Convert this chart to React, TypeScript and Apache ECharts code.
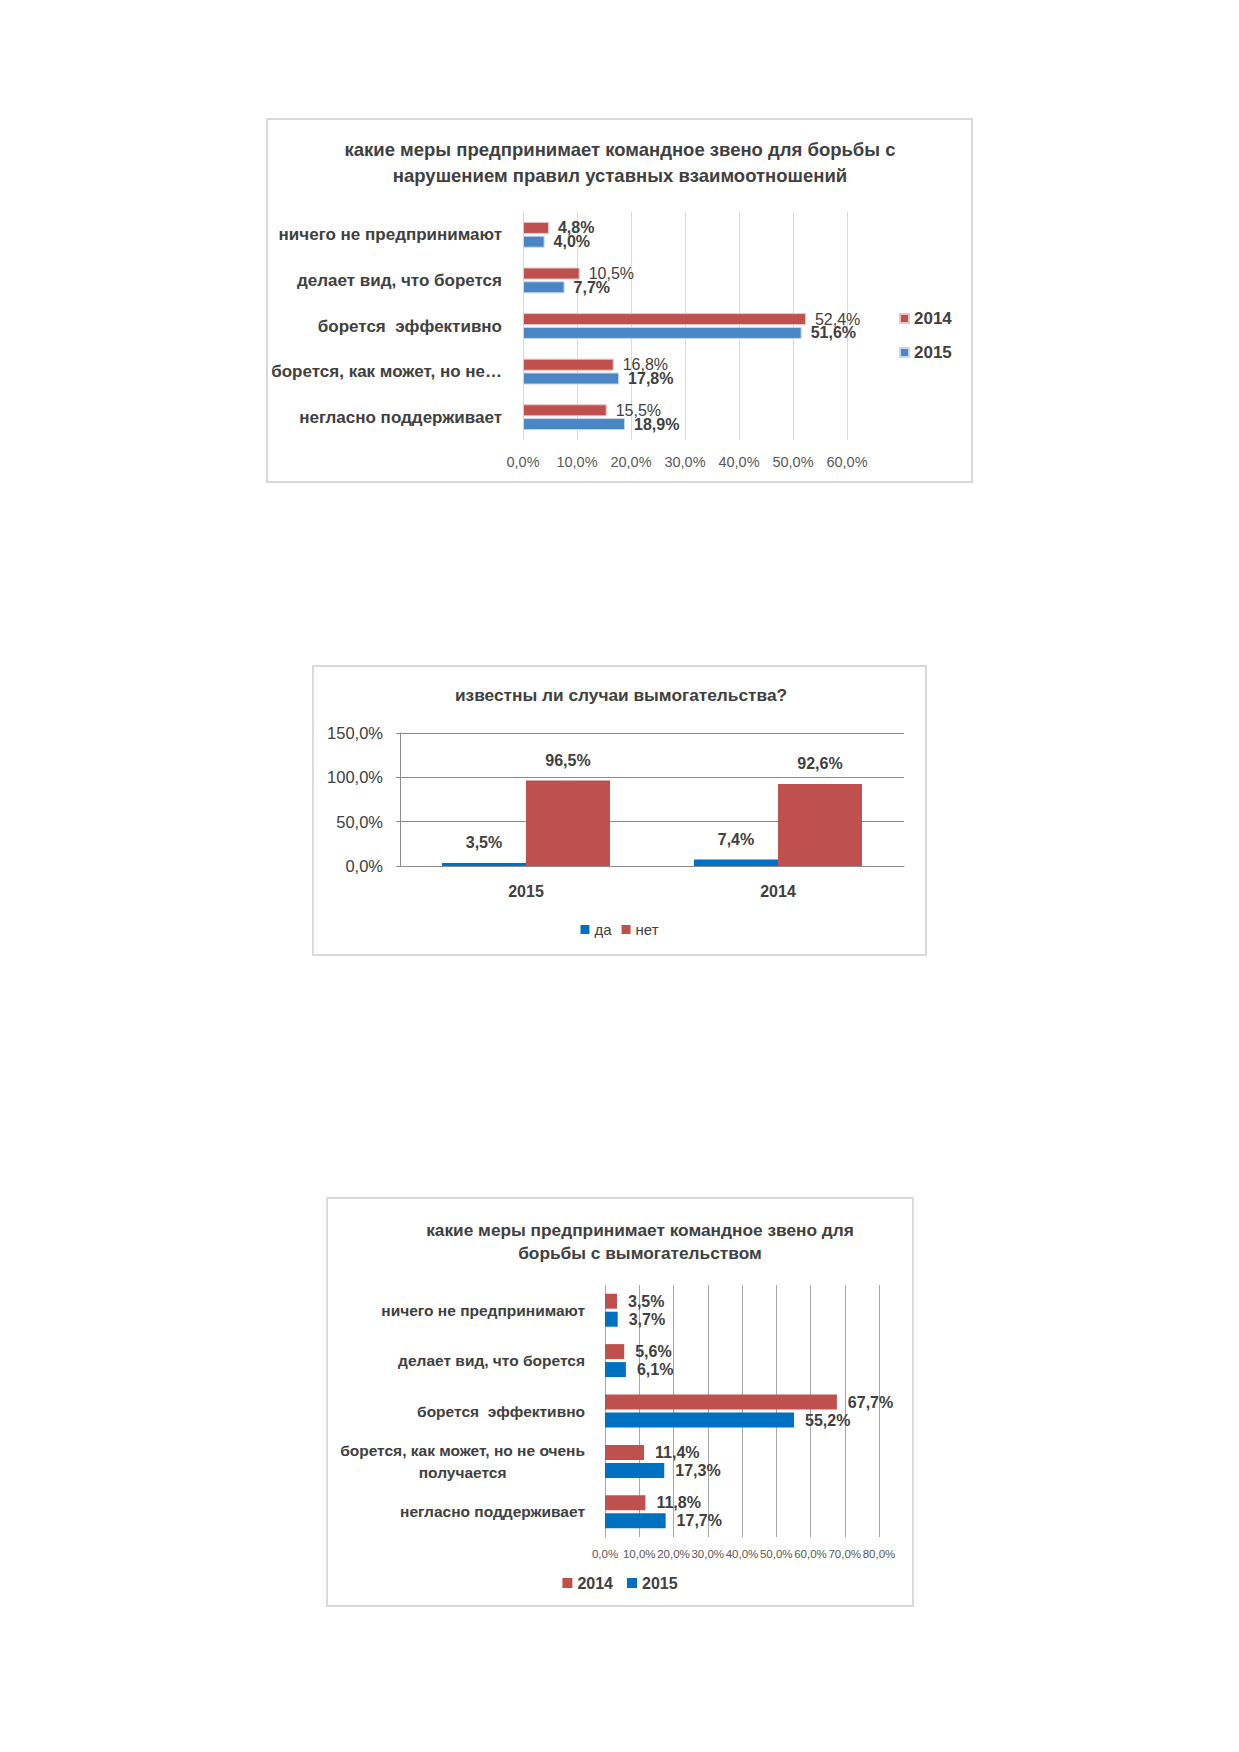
import React, { useEffect, useRef } from "react";
import * as echarts from "echarts";

// ---------- data ----------
const cats1 = [
  "ничего не предпринимают",
  "делает вид, что борется",
  "борется  эффективно",
  "борется, как может, но не…",
  "негласно поддерживает",
];
const c1_2014 = [4.8, 10.5, 52.4, 16.8, 15.5];
const c1_2015 = [4.0, 7.7, 51.6, 17.8, 18.9];

const cats2 = ["2015", "2014"];
const c2_yes = [3.5, 7.4];
const c2_no = [96.5, 92.6];

const cats3 = [
  "ничего не предпринимают",
  "делает вид, что борется",
  "борется  эффективно",
  "борется, как может, но не очень\nполучается",
  "негласно поддерживает",
];
const c3_2014 = [3.5, 5.6, 67.7, 11.4, 11.8];
const c3_2015 = [3.7, 6.1, 55.2, 17.3, 17.7];

const FONT = "Liberation Sans";
const RED = "#C0504D";
const BLUE1 = "#4A86C5";
const BLUE2 = "#0070C0";
const DARK = "#404040";

const pct = (v: number) => v.toFixed(1).replace(".", ",") + "%";

function useChart(option: any) {
  const ref = useRef<HTMLDivElement>(null);
  useEffect(() => {
    if (!ref.current) return;
    const chart = echarts.init(ref.current, undefined, { renderer: "svg" });
    chart.setOption(option);
    return () => chart.dispose();
  }, []);
  return ref;
}

function titleText(lines: string[], cx: number, y0: number, step: number, size: number) {
  return lines.map((t, i) => ({
    type: "text",
    x: cx,
    y: y0 + i * step,
    style: {
      text: t,
      textAlign: "center",
      textVerticalAlign: "middle",
      font: `bold ${size}px "${FONT}"`,
      fill: DARK,
    },
  }));
}

const option1 = {
  animation: false,
  textStyle: { fontFamily: FONT },
  graphic: titleText(
    [
      "какие меры предпринимает командное звено для борьбы с",
      "нарушением правил уставных взаимоотношений",
    ],
    352,
    29,
    26,
    18.5
  ),
  grid: { left: 255, top: 92, width: 324, height: 228 },
  xAxis: {
    type: "value",
    min: 0,
    max: 60,
    interval: 10,
    axisLine: { show: false },
    axisTick: { show: false },
    splitLine: { lineStyle: { color: "#d9d9d9", width: 1 } },
    axisLabel: { formatter: (v: number) => pct(v), color: "#595959", fontSize: 14.5, margin: 14, fontFamily: FONT },
  },
  yAxis: {
    type: "category",
    inverse: true,
    data: cats1,
    axisLine: { lineStyle: { color: "#d9d9d9" } },
    axisTick: { length: 5, lineStyle: { color: "#d9d9d9" } },
    axisLabel: { color: DARK, fontSize: 17, fontWeight: "bold", margin: 21, fontFamily: FONT },
  },
  legend: {
    orient: "vertical",
    left: 626,
    top: 185,
    itemWidth: 9,
    itemHeight: 9,
    itemGap: 17,
    icon: "rect",
    textStyle: { color: DARK, fontSize: 17, fontWeight: "bold", fontFamily: FONT },
    data: ["2014", "2015"],
  },
  series: [
    {
      name: "2014",
      type: "bar",
      data: c1_2014.map((v, i) => ({
        value: v,
        label: { fontWeight: i === 0 ? "bold" : "normal" },
      })),
      barWidth: 12,
      barGap: "15%",
      itemStyle: { color: RED, borderColor: "#e8c4c3", borderWidth: 1 },
      label: {
        show: true,
        position: "right",
        distance: 9,
        formatter: (p: any) => pct(p.value),
        color: DARK,
        fontSize: 16,
        fontFamily: FONT,
      },
    },
    {
      name: "2015",
      type: "bar",
      data: c1_2015,
      barWidth: 12,
      itemStyle: { color: BLUE1, borderColor: "#c5d7ec", borderWidth: 1 },
      label: {
        show: true,
        position: "right",
        distance: 9,
        formatter: (p: any) => pct(p.value),
        color: DARK,
        fontSize: 16,
        fontWeight: "bold",
        fontFamily: FONT,
      },
    },
  ],
};

const option2 = {
  animation: false,
  textStyle: { fontFamily: FONT },
  graphic: titleText(["известны ли случаи вымогательства?"], 307, 28, 0, 17.3),
  grid: { left: 86, top: 66, width: 504, height: 133 },
  xAxis: {
    type: "category",
    data: cats2,
    axisLine: { lineStyle: { color: "#8c8c8c" } },
    axisTick: { length: 5, lineStyle: { color: "#8c8c8c" } },
    axisLabel: { color: DARK, fontSize: 16, fontWeight: "bold", margin: 17, fontFamily: FONT },
  },
  yAxis: {
    type: "value",
    min: 0,
    max: 150,
    interval: 50,
    axisLine: { show: true, lineStyle: { color: "#8c8c8c" } },
    axisTick: { show: true, length: 4, lineStyle: { color: "#8c8c8c" } },
    splitLine: { lineStyle: { color: "#8c8c8c" } },
    axisLabel: { formatter: (v: number) => pct(v), color: DARK, fontSize: 16.5, margin: 17, fontFamily: FONT },
  },
  legend: {
    left: "center",
    top: 250,
    itemWidth: 9,
    itemHeight: 9,
    itemGap: 10,
    icon: "rect",
    textStyle: { color: DARK, fontSize: 15, fontFamily: FONT },
    data: ["да", "нет"],
  },
  series: [
    {
      name: "да",
      type: "bar",
      data: c2_yes,
      barWidth: 84,
      barGap: "0%",
      itemStyle: { color: BLUE2 },
      label: {
        show: true,
        position: "top",
        distance: 12,
        formatter: (p: any) => pct(p.value),
        color: DARK,
        fontSize: 16,
        fontWeight: "bold",
        fontFamily: FONT,
      },
    },
    {
      name: "нет",
      type: "bar",
      data: c2_no,
      barWidth: 84,
      itemStyle: { color: RED },
      label: {
        show: true,
        position: "top",
        distance: 12,
        formatter: (p: any) => pct(p.value),
        color: DARK,
        fontSize: 16,
        fontWeight: "bold",
        fontFamily: FONT,
      },
    },
  ],
};

const option3 = {
  animation: false,
  textStyle: { fontFamily: FONT },
  graphic: titleText(
    ["какие меры предпринимает командное звено для", "борьбы с вымогательством"],
    312,
    31,
    23,
    17.3
  ),
  grid: { left: 277, top: 86, width: 274, height: 252 },
  xAxis: {
    type: "value",
    min: 0,
    max: 80,
    interval: 10,
    axisLine: { show: false },
    axisTick: { show: false },
    splitLine: { lineStyle: { color: "#a6a6a6" } },
    axisLabel: { formatter: (v: number) => pct(v), color: "#595959", fontSize: 11.5, margin: 11, fontFamily: FONT },
  },
  yAxis: {
    type: "category",
    inverse: true,
    data: cats3,
    axisLine: { lineStyle: { color: "#a6a6a6" } },
    axisTick: { length: 5, lineStyle: { color: "#a6a6a6" } },
    axisLabel: {
      color: DARK,
      fontSize: 15.5,
      fontWeight: "bold",
      margin: 20,
      fontFamily: FONT,
      lineHeight: 22,
      formatter: (v: string) =>
        v.indexOf("\n") >= 0 ? v.split("\n").map((s) => "{c|" + s + "}").join("\n") : v,
      rich: {
        c: { align: "center", color: DARK, fontSize: 15.5, fontWeight: "bold", fontFamily: FONT, lineHeight: 22 },
      },
    },
  },
  legend: {
    left: "center",
    top: 371,
    itemWidth: 10,
    itemHeight: 10,
    itemGap: 14,
    icon: "rect",
    textStyle: { color: DARK, fontSize: 16, fontWeight: "bold", fontFamily: FONT },
    data: ["2014", "2015"],
  },
  series: [
    {
      name: "2014",
      type: "bar",
      data: c3_2014,
      barWidth: 15,
      barGap: "20%",
      itemStyle: { color: RED },
      label: {
        show: true,
        position: "right",
        distance: 11,
        formatter: (p: any) => pct(p.value),
        color: DARK,
        fontSize: 16,
        fontWeight: "bold",
        fontFamily: FONT,
      },
    },
    {
      name: "2015",
      type: "bar",
      data: c3_2015,
      barWidth: 15,
      itemStyle: { color: BLUE2 },
      label: {
        show: true,
        position: "right",
        distance: 11,
        formatter: (p: any) => pct(p.value),
        color: DARK,
        fontSize: 16,
        fontWeight: "bold",
        fontFamily: FONT,
      },
    },
  ],
};

function Box({ x, y, w, h, option }: { x: number; y: number; w: number; h: number; option: any }) {
  const ref = useChart(option);
  return (
    <div
      style={{
        position: "absolute",
        left: x,
        top: y,
        width: w,
        height: h,
        border: "2px solid #d9d9d9",
        boxSizing: "border-box",
        background: "#fff",
      }}
    >
      <div ref={ref} style={{ width: w - 4, height: h - 4 }} />
    </div>
  );
}

export default function App() {
  return (
    <div style={{ position: "absolute", left: 0, top: 0, width: 1239, height: 1752, background: "#fff" }}>
      <Box x={266} y={118} w={707} h={365} option={option1} />
      <Box x={312} y={665} w={615} h={291} option={option2} />
      <Box x={326} y={1197} w={588} h={410} option={option3} />
    </div>
  );
}
